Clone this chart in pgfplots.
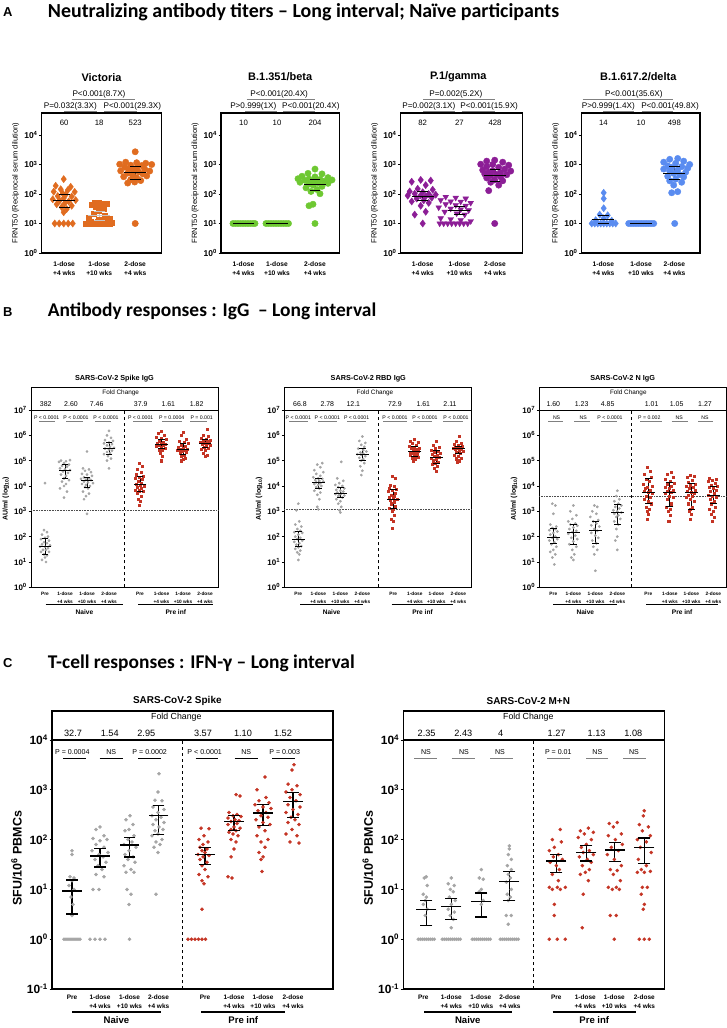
\documentclass[border=0pt]{standalone}
\usepackage{pgfplots}
\pgfplotsset{compat=1.18}
\usepackage{fontspec}
\setmainfont{Liberation Sans}
\newfontfamily\headfont{Carlito}
\definecolor{vic}{RGB}{224,108,32}
\definecolor{bet}{RGB}{110,200,50}
\definecolor{gam}{RGB}{140,30,150}
\definecolor{del}{RGB}{90,140,240}
\definecolor{ngray}{RGB}{165,165,165}
\definecolor{pred}{RGB}{196,52,36}
\definecolor{pbar}{RGB}{128,128,128}
\newcommand{\fs}[1]{\fontsize{#1}{#1}\selectfont}
\newcommand{\tp}[1]{\textbf{10\textsuperscript{#1}}}
\newcommand{\mqgen}[8]{%
 \addplot[#1, forget plot, line width=#2] coordinates {(#5,#7)(#5,#8)};
 \addplot[#1, forget plot, only marks, mark=-, mark size=#3, mark options={line width=#2}] coordinates {(#5,#7)(#5,#8)};
 \addplot[#1, forget plot, only marks, mark=-, mark size=#4, mark options={line width=#2}] coordinates {(#5,#6)};}
\newcommand{\mqA}[5][black]{\mqgen{#1}{1pt}{5.5pt}{11pt}{#2}{#3}{#4}{#5}}
\newcommand{\mqB}[5][black]{\mqgen{#1}{0.9pt}{3.5pt}{6.5pt}{#2}{#3}{#4}{#5}}
\newcommand{\mqC}[5][black]{\mqgen{#1}{1.3pt}{6pt}{10pt}{#2}{#3}{#4}{#5}}
\newcommand{\tx}[5]{\node[font=#4, inner sep=0pt, anchor=center] at ([yshift=#3]axis cs:#1,#2) {#5};}
\newcommand{\hb}[6][pbar]{\draw[#1, line width=#6] ([yshift=#5]axis cs:#2,#4) -- ([yshift=#5]axis cs:#3,#4);}
\pgfplotsset{
 basefig/.style={scale only axis, xmin=0, clip=false,
   tick align=outside, ytick pos=left, xtick pos=bottom,
   xtick style={draw=none}, minor tick style={draw=none},
   ytick style={black, line width=0.8pt}, major tick length=2.5pt,
   xticklabel style={align=center}, yticklabel style={inner sep=1.5pt}},
 panelA/.style={basefig, height=140bp, ymin=1, ymax=55700,
   axis line style={line width=1.3pt},
   ytick={1,10,100,1000,10000}, yticklabels={\tp{0},\tp{1},\tp{2},\tp{3},\tp{4}},
   yticklabel style={font=\fs{8.5}},
   xticklabels={{1-dose\\+4 wks},{1-dose\\+10 wks},{2-dose\\+4 wks}},
   xticklabel style={font=\fontsize{6.7}{8.4}\selectfont\bfseries, yshift=-3pt},
   ylabel={FRNT50 (Reciprocal serum dilution)}, ylabel style={font=\fs{7.6}}},
 panelB/.style={basefig, height=199.6bp, ymin=1, ymax=7.6e7,
   axis line style={line width=0.9pt},
   ytick={1,10,100,1000,1e4,1e5,1e6,1e7},
   yticklabels={\tp{0},\tp{1},\tp{2},\tp{3},\tp{4},\tp{5},\tp{6},\tp{7}},
   yticklabel style={font=\fs{8}},
   xtick={14,34,56,78,109,130.5,152,174},
   xticklabels={Pre,{1-dose\\+4 wks},{1-dose\\+10 wks},{2-dose\\+4 wks},Pre,{1-dose\\+4 wks},{1-dose\\+10 wks},{2-dose\\+4 wks}},
   xticklabel style={font=\fontsize{4.8}{7.4}\selectfont\bfseries, yshift=1pt},
   ylabel={\textbf{AU/ml (log\textsubscript{10})}}, ylabel style={font=\fs{7}, at={(ticklabel cs:0.444)}}},
 panelC/.style={basefig, height=278bp, ymin=0.1, ymax=38200,
   axis line style={line width=1.3pt},
   ytick={0.1,1,10,100,1000,10000},
   yticklabels={\tp{-1},\tp{0},\tp{1},\tp{2},\tp{3},\tp{4}},
   yticklabel style={font=\fs{12}},
   xtick={20,48,77.5,106.5,153,182,211,241},
   xticklabels={Pre,{1-dose\\+4 wks},{1-dose\\+10 wks},{2-dose\\+4 wks},Pre,{1-dose\\+4 wks},{1-dose\\+10 wks},{2-dose\\+4 wks}},
   xticklabel style={font=\fontsize{6.5}{8.4}\selectfont\bfseries},
   ylabel={\textbf{SFU/10\textsuperscript{6} PBMCs}}, ylabel style={font=\fs{12.5}, at={(ticklabel cs:0.47)}}},
}
\begin{document}
\begin{tikzpicture}
\path[use as bounding box] (0,0) rectangle (727bp,-1028bp);
\node[anchor=west, inner sep=0pt, font=\bfseries\fs{13}] at (3bp,-11.7bp) {A};
\node[anchor=west, inner sep=0pt, font=\headfont\bfseries\fs{20}] at (47.7bp,-11.7bp) {Neutralizing antibody titers – Long interval; Naïve participants};
\node[anchor=west, inner sep=0pt, font=\bfseries\fs{13}] at (3bp,-311.7bp) {B};
\node[anchor=west, inner sep=0pt, font=\headfont\bfseries\fs{19.5}] at (47.7bp,-311.7bp) {Antibody responses : IgG\ \ – Long interval};
\node[anchor=west, inner sep=0pt, font=\bfseries\fs{13}] at (3bp,-663bp) {C};
\node[anchor=west, inner sep=0pt, font=\headfont\bfseries\fs{19.5}] at (47.7bp,-663bp) {T-cell responses : IFN-γ – Long interval};

%%%%%%%%%%%%%%%% A: Victoria
\begin{axis}[ymode=log, panelA, width=119.6bp, at={(41.7bp,-253bp)}, anchor=south west, xmax=119.6, xtick={22.5,57.5,93.5}]
\addplot[vic, only marks, mark=diamond*, mark size=3.6pt] coordinates {(22,320)(14,190)(29,175)(19,145)(26,135)(12,120)(33,118)(21,105)(24,95)(16,85)(30,82)(22,72)(11,66)(34,62)(18,60)(27,56)(23,48)(15,45)(30,40)(20,36)(25,31)(22,24)(13,10)(17.5,10)(22,10)(26.5,10)(31,10)};
\addplot[vic, only marks, mark=square*, mark size=2.5pt] coordinates {(53,52)(57,50)(61,48)(65,46)(50,43)(58,41)(54,36)(62,32)(57,27)(52,22)(63,19)(47,16)(68,15)(57,13)(44,10)(47.5,10)(51,10)(54.5,10)(58,10)(61.5,10)(65,10)(68.5,10)(49,11.5)(56,11.5)(63,11.5)(70,11)};
\addplot[vic, only marks, mark=*, mark size=3.2pt] coordinates {(93.5,2700)(84,1200)(95,1150)(104,1100)(78,1020)(89,950)(100,920)(110,1000)(83,820)(95,760)(87,700)(103,700)(92,650)(79,610)(108,600)(97,560)(86,510)(101,480)(91,430)(105,410)(82,385)(95,350)(89,305)(99,285)(93,255)(86,235)(93.5,10)};
\mqA{22.5}{60}{35}{100}
\mqA[gray!45]{57.5}{18}{12.5}{25}
\mqA{93.5}{523}{320}{850}
\tx{59.8}{55700}{36pt}{\bfseries\fs{11}}{Victoria}
\tx{57.3}{55700}{19pt}{\fs{8.2}}{P<0.001(8.7X)}
\hb{30}{93.3}{55700}{14pt}{0.7pt}
\tx{28.7}{55700}{7pt}{\fs{8.2}}{P=0.032(3.3X)}
\hb{22.7}{55}{55700}{2pt}{0.7pt}
\tx{90.7}{55700}{7pt}{\fs{8.2}}{P<0.001(29.3X)}
\hb{62.7}{95}{55700}{2pt}{0.7pt}
\tx{22.5}{55700}{-10pt}{\fs{7.8}}{60}
\tx{57.5}{55700}{-10pt}{\fs{7.8}}{18}
\tx{93.5}{55700}{-10pt}{\fs{7.8}}{523}
\end{axis}

%%%%%%%%%%%%%%%% A: Beta
\begin{axis}[ymode=log, panelA, width=118.3bp, at={(221bp,-253bp)}, anchor=south west, xmax=118.3, xtick={22.5,56,94}]
\addplot[bet, only marks, mark=*, mark size=3.2pt] coordinates {(12,10)(14.5,10)(17,10)(19.5,10)(22,10)(24.5,10)(27,10)(29.5,10)(32,10)(34,10)};
\addplot[bet, only marks, mark=*, mark size=3.2pt] coordinates {(45,10)(47.5,10)(50,10)(52.5,10)(55,10)(57.5,10)(60,10)(62.5,10)(65,10)(67.5,10)};
\addplot[bet, only marks, mark=*, mark size=3.2pt] coordinates {(94,700)(87,500)(101,480)(81,400)(94,380)(107,360)(77,330)(88,320)(99,310)(111,300)(84,290)(93,280)(103,270)(79,250)(97,240)(88,222)(107,230)(92,200)(101,182)(85,162)(96,142)(90,122)(99,102)(92,45)(88,40)(94,10)};
\mqA{22.5}{10}{10}{10}
\mqA{56}{10}{10}{10}
\mqA{94}{204}{130}{320}
\tx{59.2}{55700}{36pt}{\bfseries\fs{11}}{B.1.351/beta}
\tx{58.2}{55700}{19pt}{\fs{8.2}}{P<0.001(20.4X)}
\hb{25.7}{94}{55700}{14pt}{0.7pt}
\tx{32.3}{55700}{7pt}{\fs{8.2}}{P>0.999(1X)}
\hb{24}{56.3}{55700}{2pt}{0.7pt}
\tx{89.8}{55700}{7pt}{\fs{8.2}}{P<0.001(20.4X)}
\hb{62.3}{94}{55700}{2pt}{0.7pt}
\tx{22.5}{55700}{-10pt}{\fs{7.8}}{10}
\tx{56}{55700}{-10pt}{\fs{7.8}}{10}
\tx{94}{55700}{-10pt}{\fs{7.8}}{204}
\end{axis}

%%%%%%%%%%%%%%%% A: Gamma
\begin{axis}[ymode=log, panelA, width=122bp, at={(400.7bp,-253bp)}, anchor=south west, xmax=122, xtick={22,58.7,94.3}]
\addplot[gam, only marks, mark=diamond*, mark size=3.6pt] coordinates {(20,300)(30,285)(11,260)(25,200)(17,150)(32,140)(9,122)(22,115)(14,102)(28,100)(35,95)(20,90)(7,88)(25,84)(31,75)(16,70)(23,61)(11,56)(28,50)(20,40)(25,25)(14,20)(22,10)};
\addplot[gam, only marks, mark=triangle*, mark size=3.3pt, mark options={rotate=180}] coordinates {(45,80)(55,75)(65,70)(40,62)(50,56)(60,55)(70,50)(45,45)(55,42)(65,40)(38,35)(50,32)(60,30)(68,28)(44,25)(56,22)(64,20)(40,15)(50,14)(60,13)(70,12)(39,10)(43,10)(47,10)(51,10)(55,10)(59,10)(63,10)(67,10)};
\addplot[gam, only marks, mark=*, mark size=3.2pt] coordinates {(94,1400)(86,1300)(102,1200)(80,1020)(92,1000)(108,950)(86,850)(98,800)(104,700)(82,650)(92,610)(110,600)(88,550)(100,520)(84,480)(96,460)(106,450)(90,420)(100,380)(86,350)(94,300)(102,280)(90,250)(98,200)(88,130)(94,10)};
\mqA{22}{82}{60}{120}
\mqA{58.7}{27}{20}{38}
\mqA{94.3}{428}{260}{700}
\tx{57.6}{55700}{36pt}{\bfseries\fs{11}}{P.1/gamma}
\tx{55.2}{55700}{19pt}{\fs{8.2}}{P=0.002(5.2X)}
\hb{22.7}{94.3}{55700}{14pt}{0.7pt}
\tx{28.2}{55700}{7pt}{\fs{8.2}}{P=0.002(3.1X)}
\hb{22.7}{54.3}{55700}{2pt}{0.7pt}
\tx{88.5}{55700}{7pt}{\fs{8.2}}{P<0.001(15.9X)}
\hb{61}{94.3}{55700}{2pt}{0.7pt}
\tx{22}{55700}{-10pt}{\fs{7.8}}{82}
\tx{58.7}{55700}{-10pt}{\fs{7.8}}{27}
\tx{94.3}{55700}{-10pt}{\fs{7.8}}{428}
\end{axis}

%%%%%%%%%%%%%%%% A: Delta
\begin{axis}[ymode=log, panelA, width=118.3bp, at={(581.7bp,-253bp)}, anchor=south west, xmax=118.3, xtick={21.7,59.3,92.7}]
\addplot[del, only marks, mark=diamond*, mark size=3.6pt] coordinates {(22,110)(22,70)(22,33)(18,20)(26,19)(14,13)(30,12.5)(22,15)(10,10)(13,10)(16,10)(19,10)(22,10)(25,10)(28,10)(31,10)(34,10)};
\addplot[del, only marks, mark=*, mark size=3.2pt] coordinates {(47,10)(49.5,10)(52,10)(54.5,10)(57,10)(59.5,10)(62,10)(64.5,10)(67,10)(69.5,10)(72,10)};
\addplot[del, only marks, mark=*, mark size=3.2pt] coordinates {(96,1600)(88,1500)(102,1300)(82,1200)(94,1100)(108,1000)(86,900)(100,850)(90,800)(106,750)(82,700)(96,650)(88,600)(104,550)(92,500)(98,450)(86,400)(102,380)(94,320)(88,280)(100,250)(92,200)(96,120)(90,110)(93,10)};
\mqA{21.7}{14}{10}{18}
\mqA{59.3}{10}{10}{10}
\mqA{92.7}{498}{300}{850}
\tx{56.6}{55700}{36pt}{\bfseries\fs{11}}{B.1.617.2/delta}
\tx{52.2}{55700}{19pt}{\fs{8.2}}{P<0.001(35.6X)}
\hb{1}{91.7}{55700}{14pt}{0.7pt}
\tx{26.7}{55700}{7pt}{\fs{8.2}}{P>0.999(1.4X)}
\hb{21.7}{52.3}{55700}{2pt}{0.7pt}
\tx{88.3}{55700}{7pt}{\fs{8.2}}{P<0.001(49.8X)}
\hb{60}{91.7}{55700}{2pt}{0.7pt}
\tx{21.7}{55700}{-10pt}{\fs{7.8}}{14}
\tx{59.3}{55700}{-10pt}{\fs{7.8}}{10}
\tx{92.7}{55700}{-10pt}{\fs{7.8}}{498}
\end{axis}

%%%%%%%%%%%%%%%% B: Spike IgG
\begin{axis}[ymode=log, panelB, width=187.3bp, at={(31bp,-587.3bp)}, anchor=south west, xmax=187.3]
\addplot[black, line width=0.9pt, forget plot] coordinates {(0,1e7)(187.3,1e7)};
\addplot[black, dashed, line width=0.7pt, forget plot] coordinates {(93.3,1)(93.3,1e7)};
\addplot[black!70, densely dotted, line width=0.6pt, forget plot] coordinates {(0,1100)(187.3,1100)};
\addplot[ngray, only marks, mark=*, mark size=1.2pt] coordinates {(14,13000)(13,180)(16,150)(11,120)(17,100)(14,90)(10,80)(18,70)(13,60)(16,55)(11,50)(19,45)(14,40)(9,40)(17,35)(12,30)(15,30)(10,25)(18,25)(13,20)(16,18)(14,15)(11,12)(15,10)};
\addplot[ngray, only marks, mark=*, mark size=1.2pt] coordinates {(30,100000)(35,95000)(39,105000)(28,90000)(33,80000)(38,70000)(31,62000)(36,58000)(29,50000)(34,45000)(39,42000)(32,38000)(37,33000)(30,28000)(35,25000)(33,20000)(38,17000)(31,15000)(35,12000)(33,10000)(29,8000)(36,6000)(33,3500)};
\addplot[ngray, only marks, mark=*, mark size=1.2pt] coordinates {(56,230000)(52,50000)(58,45000)(54,40000)(60,35000)(51,30000)(56,28000)(61,25000)(53,22000)(58,20000)(50,19000)(55,18000)(60,17000)(53,15000)(57,14000)(62,13000)(51,12000)(55,11000)(59,10000)(54,9000)(57,8000)(52,6000)(58,5000)(55,4000)(53,3000)(56,800)};
\addplot[ngray, only marks, mark=*, mark size=1.2pt] coordinates {(78,1500000)(76,1000000)(80,800000)(74,650000)(82,600000)(78,520000)(73,480000)(81,450000)(76,400000)(79,350000)(83,320000)(74,300000)(78,280000)(81,250000)(76,220000)(79,200000)(73,180000)(77,150000)(80,120000)(76,100000)(78,50000)};
\addplot[pred, only marks, mark=square*, mark size=1.05pt] coordinates {(108,80000)(111,60000)(106,45000)(110,35000)(105,28000)(112,25000)(108,22000)(104,20000)(111,18000)(107,15000)(110,13000)(105,12000)(109,11000)(113,10000)(106,9000)(110,8000)(104,7000)(108,6500)(112,6000)(106,5000)(110,4000)(107,3000)(109,2500)(108,1800)};
\addplot[pred, only marks, mark=square*, mark size=1.05pt] coordinates {(130,1500000)(127,1200000)(133,1000000)(125,850000)(130,750000)(135,700000)(128,600000)(132,550000)(126,500000)(130,480000)(134,450000)(128,420000)(132,400000)(125,380000)(130,350000)(134,300000)(128,270000)(131,250000)(129,200000)(131,150000)(130,100000)};
\addplot[pred, only marks, mark=square*, mark size=1.05pt] coordinates {(152,1300000)(150,1000000)(155,700000)(148,600000)(153,550000)(157,500000)(150,420000)(154,380000)(147,340000)(152,300000)(156,290000)(149,270000)(153,260000)(146,250000)(151,230000)(155,210000)(149,190000)(153,170000)(150,150000)(154,130000)(152,110000)(150,100000)};
\addplot[pred, only marks, mark=square*, mark size=1.05pt] coordinates {(176,1800000)(172,1000000)(177,900000)(170,800000)(175,700000)(179,650000)(172,600000)(176,560000)(169,520000)(174,500000)(178,480000)(171,450000)(175,420000)(179,400000)(173,350000)(177,300000)(170,280000)(174,250000)(172,200000)(176,170000)(174,150000)};
\mqB{14}{40}{20}{85}
\mqB{34}{43000}{20000}{68000}
\mqB{56}{16000}{9000}{22000}
\mqB{78}{300000}{180000}{520000}
\mqB{109}{12000}{6000}{23000}
\mqB{130.5}{450000}{300000}{700000}
\mqB{152}{270000}{170000}{500000}
\mqB{174}{500000}{320000}{700000}
\tx{83.5}{7.6e7}{8.7pt}{\bfseries\fs{7.3}}{SARS-CoV-2 Spike IgG}
\tx{89.7}{1e7}{17.3pt}{\fs{6.4}}{Fold Change}
\tx{14.7}{1e7}{6pt}{\fs{7}}{382}
\tx{40}{1e7}{6pt}{\fs{7}}{2.60}
\tx{65.7}{1e7}{6pt}{\fs{7}}{7.46}
\tx{109.7}{1e7}{6pt}{\fs{7}}{37.9}
\tx{137.3}{1e7}{6pt}{\fs{7}}{1.61}
\tx{165.7}{1e7}{6pt}{\fs{7}}{1.82}
\tx{15.7}{1e7}{-7.7pt}{\fs{5.2}}{P < 0.0001}
\tx{45}{1e7}{-7.7pt}{\fs{5.2}}{P < 0.0001}
\tx{75}{1e7}{-7.7pt}{\fs{5.2}}{P < 0.0001}
\tx{109.7}{1e7}{-7.7pt}{\fs{5.2}}{P < 0.0001}
\tx{140.7}{1e7}{-7.7pt}{\fs{5.2}}{P = 0.0004}
\tx{170.7}{1e7}{-7.7pt}{\fs{5.2}}{P = 0.001}
\hb{8.3}{24}{1e7}{-11.7pt}{1.3pt}
\hb{35}{52.3}{1e7}{-11.7pt}{1.3pt}
\hb{64}{80}{1e7}{-11.7pt}{1.3pt}
\hb{102.3}{120.7}{1e7}{-11.7pt}{1.3pt}
\hb{131.3}{150.7}{1e7}{-11.7pt}{1.3pt}
\hb{159}{175.7}{1e7}{-11.7pt}{1.3pt}
\hb[black]{14.7}{92.3}{1}{-17pt}{1pt}
\hb[black]{107.3}{182.3}{1}{-17pt}{1pt}
\tx{53.5}{1}{-25pt}{\bfseries\fs{6.6}}{Naive}
\tx{144.8}{1}{-25pt}{\bfseries\fs{6.6}}{Pre inf}
\end{axis}

%%%%%%%%%%%%%%%% B: RBD IgG
\begin{axis}[ymode=log, panelB, width=187.4bp, at={(284.3bp,-587.3bp)}, anchor=south west, xmax=187.4]
\addplot[black, line width=0.9pt, forget plot] coordinates {(0,1e7)(187.4,1e7)};
\addplot[black, dashed, line width=0.7pt, forget plot] coordinates {(94,1)(94,1e7)};
\addplot[black!70, densely dotted, line width=0.6pt, forget plot] coordinates {(0,1200)(187.4,1200)};
\addplot[ngray, only marks, mark=*, mark size=1.2pt] coordinates {(14,2000)(12,1100)(15,400)(11,300)(17,250)(13,200)(16,170)(10,150)(18,140)(14,120)(11,100)(16,90)(13,80)(18,70)(10,62)(15,55)(12,48)(17,42)(14,38)(11,33)(16,28)(13,24)(15,20)(14,12)};
\addplot[ngray, only marks, mark=*, mark size=1.2pt] coordinates {(38,80000)(33,70000)(36,55000)(30,42000)(39,35000)(32,30000)(36,25000)(29,22000)(34,20000)(38,19000)(31,17000)(35,16000)(39,15000)(32,14000)(36,13000)(30,12000)(34,11000)(37,10000)(32,9000)(35,8000)(30,6500)(36,5500)(33,4500)(35,3000)(33,1500)(34,1200)};
\addplot[ngray, only marks, mark=*, mark size=1.2pt] coordinates {(57,90000)(53,20000)(59,16000)(55,13000)(51,11000)(58,10000)(54,9000)(60,8000)(52,7000)(56,6500)(59,6000)(53,5500)(57,5000)(51,4800)(55,4500)(60,4200)(54,4000)(58,3500)(52,3000)(56,2500)(54,2000)(57,1500)(55,1100)(56,900)};
\addplot[ngray, only marks, mark=*, mark size=1.2pt] coordinates {(78,900000)(75,600000)(81,500000)(77,420000)(80,350000)(74,300000)(79,260000)(82,230000)(76,210000)(79,190000)(73,180000)(77,170000)(81,150000)(75,130000)(79,115000)(77,100000)(80,80000)(76,60000)(78,40000)(77,27000)};
\addplot[pred, only marks, mark=square*, mark size=1.05pt] coordinates {(108,24000)(111,20000)(106,11000)(110,9500)(105,8500)(112,7500)(108,7000)(104,6000)(111,5000)(107,4500)(110,4000)(105,3500)(109,3200)(113,3000)(106,2800)(110,2400)(107,2000)(111,1600)(105,1300)(109,1200)(108,1000)(110,700)(107,500)(109,400)(108,220)};
\addplot[pred, only marks, mark=square*, mark size=1.05pt] coordinates {(130,700000)(126,600000)(134,550000)(128,480000)(132,420000)(125,380000)(130,350000)(135,320000)(127,300000)(132,270000)(129,250000)(134,230000)(126,210000)(131,200000)(128,190000)(133,180000)(126,160000)(130,150000)(134,140000)(128,130000)(131,120000)(129,100000)};
\addplot[pred, only marks, mark=square*, mark size=1.05pt] coordinates {(152,600000)(149,400000)(155,350000)(151,300000)(147,260000)(154,240000)(150,220000)(156,200000)(148,180000)(153,160000)(150,150000)(155,140000)(147,130000)(152,120000)(149,100000)(154,90000)(151,80000)(148,70000)(153,60000)(150,50000)(152,40000)};
\addplot[pred, only marks, mark=square*, mark size=1.05pt] coordinates {(175,900000)(172,600000)(177,500000)(170,450000)(174,400000)(178,370000)(171,350000)(175,330000)(169,310000)(173,300000)(177,290000)(171,280000)(175,260000)(179,240000)(172,220000)(176,200000)(170,170000)(174,150000)(177,130000)(172,120000)(175,100000)(173,90000)};
\mqB{14}{78}{40}{160}
\mqB{34}{14000}{8000}{19000}
\mqB{56}{5000}{3500}{9000}
\mqB{78}{175000}{100000}{300000}
\mqB{109}{3000}{1300}{7000}
\mqB{130.5}{230000}{150000}{380000}
\mqB{152}{140000}{80000}{250000}
\mqB{174}{300000}{200000}{370000}
\tx{84}{7.6e7}{8.7pt}{\bfseries\fs{7.3}}{SARS-CoV-2 RBD IgG}
\tx{90.7}{1e7}{17.3pt}{\fs{6.4}}{Fold Change}
\tx{15.7}{1e7}{6pt}{\fs{7}}{66.8}
\tx{43}{1e7}{6pt}{\fs{7}}{2.78}
\tx{69}{1e7}{6pt}{\fs{7}}{12.1}
\tx{110.7}{1e7}{6pt}{\fs{7}}{72.9}
\tx{139}{1e7}{6pt}{\fs{7}}{1.61}
\tx{165.7}{1e7}{6pt}{\fs{7}}{2.11}
\tx{14}{1e7}{-7.7pt}{\fs{5.2}}{P < 0.0001}
\tx{43}{1e7}{-7.7pt}{\fs{5.2}}{P < 0.0001}
\tx{72.3}{1e7}{-7.7pt}{\fs{5.2}}{P < 0.0001}
\tx{110.7}{1e7}{-7.7pt}{\fs{5.2}}{P < 0.0001}
\tx{140.7}{1e7}{-7.7pt}{\fs{5.2}}{P < 0.0001}
\tx{171.7}{1e7}{-7.7pt}{\fs{5.2}}{P < 0.0001}
\hb{5}{24}{1e7}{-11.7pt}{1.3pt}
\hb{34}{52.3}{1e7}{-11.7pt}{1.3pt}
\hb{63}{81.7}{1e7}{-11.7pt}{1.3pt}
\hb{99}{122.3}{1e7}{-11.7pt}{1.3pt}
\hb{129}{147.3}{1e7}{-11.7pt}{1.3pt}
\hb{159}{178.3}{1e7}{-11.7pt}{1.3pt}
\hb[black]{15.7}{79}{1}{-17pt}{1pt}
\hb[black]{107.3}{169}{1}{-17pt}{1pt}
\tx{47.3}{1}{-25pt}{\bfseries\fs{6.6}}{Naive}
\tx{138.2}{1}{-25pt}{\bfseries\fs{6.6}}{Pre inf}
\end{axis}

%%%%%%%%%%%%%%%% B: N IgG
\begin{axis}[ymode=log, panelB, width=186.7bp, at={(539.3bp,-587.3bp)}, anchor=south west, xmax=186.7]
\addplot[black, line width=0.9pt, forget plot] coordinates {(0,1e7)(186.7,1e7)};
\addplot[black, dashed, line width=0.7pt, forget plot] coordinates {(92.3,1)(92.3,1e7)};
\addplot[black!70, densely dotted, line width=0.6pt, forget plot] coordinates {(0,4000)(186.7,4000)};
\addplot[ngray, only marks, mark=*, mark size=1.2pt] coordinates {(13,2000)(16,1700)(14,800)(11,300)(17,250)(13,220)(16,200)(10,180)(18,160)(14,140)(11,120)(16,100)(13,90)(18,80)(10,70)(15,60)(12,50)(17,40)(14,30)(11,25)(16,20)(13,15)(15,8)};
\addplot[ngray, only marks, mark=*, mark size=1.2pt] coordinates {(34,1700)(31,1000)(37,700)(33,500)(29,400)(36,330)(31,300)(38,270)(34,230)(30,200)(37,170)(33,150)(29,130)(36,110)(32,90)(38,80)(34,65)(30,50)(37,40)(33,30)(35,20)(32,15)(34,12)};
\addplot[ngray, only marks, mark=*, mark size=1.2pt] coordinates {(55,1700)(58,1500)(53,1000)(57,800)(51,600)(59,450)(54,400)(57,330)(52,280)(60,250)(55,200)(58,170)(52,140)(56,110)(59,90)(53,70)(57,55)(54,40)(58,30)(55,20)(56,4.5)};
\addplot[ngray, only marks, mark=*, mark size=1.2pt] coordinates {(78,6500)(77,4000)(80,3000)(75,2500)(79,2000)(82,1700)(76,1500)(80,1300)(74,1100)(78,1000)(82,900)(75,800)(79,700)(77,600)(81,500)(75,400)(79,300)(77,200)(78,100)(76,70)(78,30)};
\addplot[pred, only marks, mark=square*, mark size=1.05pt] coordinates {(108,55000)(111,40000)(105,30000)(112,22000)(107,18000)(110,15000)(104,12000)(113,10000)(108,9000)(106,8000)(111,7000)(105,6000)(109,5500)(113,5000)(107,4000)(111,3500)(105,3000)(109,2500)(112,2000)(107,1500)(110,1200)(108,1000)(109,800)(108,500)};
\addplot[pred, only marks, mark=square*, mark size=1.05pt] coordinates {(132,35000)(128,30000)(134,22000)(126,18000)(131,15000)(135,13000)(128,12000)(132,10000)(126,9000)(130,8000)(134,7000)(128,6000)(132,5500)(126,5000)(130,4000)(134,3500)(128,3000)(132,2000)(127,1500)(131,1200)(129,1000)(131,700)(129,420)(130,400)};
\addplot[pred, only marks, mark=square*, mark size=1.05pt] coordinates {(151,26000)(155,24000)(148,22000)(153,17000)(149,14000)(156,12000)(151,11000)(147,10000)(154,9000)(150,8000)(156,7000)(148,6000)(152,5500)(155,5000)(149,4500)(153,4000)(147,3500)(151,3000)(155,2500)(149,2000)(153,1500)(151,1200)(150,1000)(152,800)(151,500)};
\addplot[pred, only marks, mark=square*, mark size=1.05pt] coordinates {(170,20000)(177,19000)(173,17000)(169,15000)(176,13000)(172,11000)(178,10000)(170,9000)(174,8000)(177,7000)(171,6000)(175,5000)(169,4500)(173,4000)(177,3500)(171,3000)(175,2500)(172,2000)(176,1500)(170,1200)(174,1000)(172,800)(175,600)(173,400)};
\mqB{14}{95}{55}{220}
\mqB{34}{150}{50}{300}
\mqB{56}{180}{55}{400}
\mqB{78}{900}{300}{1800}
\mqB{109}{5500}{2100}{20000}
\mqB{130.5}{5500}{1600}{14000}
\mqB{152}{5500}{1200}{13000}
\mqB{174}{4200}{2000}{10000}
\tx{83.3}{7.6e7}{8.7pt}{\bfseries\fs{7.3}}{SARS-CoV-2 N IgG}
\tx{89}{1e7}{17.3pt}{\fs{6.4}}{Fold Change}
\tx{14}{1e7}{6pt}{\fs{7}}{1.60}
\tx{42.3}{1e7}{6pt}{\fs{7}}{1.23}
\tx{68.3}{1e7}{6pt}{\fs{7}}{4.85}
\tx{112.3}{1e7}{6pt}{\fs{7}}{1.01}
\tx{137.3}{1e7}{6pt}{\fs{7}}{1.05}
\tx{165.7}{1e7}{6pt}{\fs{7}}{1.27}
\tx{17.3}{1e7}{-7.7pt}{\fs{5.2}}{NS}
\tx{44}{1e7}{-7.7pt}{\fs{5.2}}{NS}
\tx{70.7}{1e7}{-7.7pt}{\fs{5.2}}{P < 0.0001}
\tx{110}{1e7}{-7.7pt}{\fs{5.2}}{P = 0.002}
\tx{140}{1e7}{-7.7pt}{\fs{5.2}}{NS}
\tx{165.7}{1e7}{-7.7pt}{\fs{5.2}}{NS}
\hb{9}{24}{1e7}{-11.7pt}{1.3pt}
\hb{35}{50.7}{1e7}{-11.7pt}{1.3pt}
\hb{61.3}{78}{1e7}{-11.7pt}{1.3pt}
\hb{100.7}{122.3}{1e7}{-11.7pt}{1.3pt}
\hb{132.3}{149}{1e7}{-11.7pt}{1.3pt}
\hb{159}{174}{1e7}{-11.7pt}{1.3pt}
\hb[black]{14}{78}{1}{-17pt}{1pt}
\hb[black]{106.7}{179}{1}{-17pt}{1pt}
\tx{46}{1}{-25pt}{\bfseries\fs{6.6}}{Naive}
\tx{142.8}{1}{-25pt}{\bfseries\fs{6.6}}{Pre inf}
\end{axis}

%%%%%%%%%%%%%%%% C: Spike
\begin{axis}[ymode=log, panelC, width=281bp, at={(52bp,-989bp)}, anchor=south west, xmax=281]
\addplot[black, line width=1.3pt, forget plot] coordinates {(0,1e4)(281,1e4)};
\addplot[black, dashed, line width=0.8pt, forget plot] coordinates {(130,0.1)(130,1e4)};
\addplot[ngray, only marks, mark=*, mark size=1.6pt] coordinates {(20,60)(20,50)(18,18)(22,17)(20,15)(17,12)(22,10)(19,7)(21,5)(20,3)(12,1)(14,1)(16,1)(18,1)(20,1)(22,1)(24,1)(26,1)(28,1)};
\addplot[ngray, only marks, mark=*, mark size=1.6pt] coordinates {(48,180)(44,160)(52,120)(41,105)(55,100)(48,95)(44,80)(52,70)(40,60)(56,55)(47,50)(51,45)(43,40)(54,35)(46,30)(50,25)(44,20)(52,18)(41,10)(47,10)(38,1)(43,1)(48,1)(53,1)};
\addplot[ngray, only marks, mark=*, mark size=1.6pt] coordinates {(78,300)(74,250)(81,200)(77,160)(73,150)(82,120)(76,100)(80,90)(72,80)(84,70)(77,60)(73,50)(81,45)(76,40)(83,35)(72,30)(79,25)(74,22)(82,22)(75,10)(79,8)(77,5)(77.5,1)};
\addplot[ngray, only marks, mark=*, mark size=1.6pt] coordinates {(107,2100)(106,900)(103,620)(110,600)(101,450)(112,400)(106,350)(100,300)(109,280)(104,250)(112,220)(101,200)(107,180)(111,160)(103,150)(106,130)(100,120)(110,100)(104,90)(108,80)(102,70)(106,55)(104,8)};
\addplot[pred, only marks, mark=*, mark size=1.6pt] coordinates {(149,170)(157,165)(152,120)(147,100)(156,90)(151,80)(148,70)(155,65)(150,60)(153,55)(146,50)(157,48)(151,45)(148,40)(155,35)(150,30)(153,25)(147,20)(156,18)(150,15)(152,13)(150,4)(136,1)(139.5,1)(143,1)(146.5,1)(150,1)(153.5,1)};
\addplot[pred, only marks, mark=*, mark size=1.6pt] coordinates {(184,800)(188,750)(177,350)(185,320)(181,300)(189,290)(176,270)(183,250)(187,240)(179,230)(185,210)(176,200)(182,180)(188,170)(179,160)(184,150)(177,140)(181,130)(186,120)(179,100)(184,90)(182,65)(179,45)(176,18)(180,17)};
\addplot[pred, only marks, mark=*, mark size=1.6pt] coordinates {(213,1800)(205,1000)(214,700)(207,600)(217,550)(203,500)(211,450)(219,420)(206,380)(214,350)(209,300)(216,280)(204,250)(211,220)(218,200)(207,180)(213,150)(205,120)(216,100)(209,90)(213,70)(207,55)(211,45)(209,40)(210,23)};
\addplot[pred, only marks, mark=*, mark size=1.6pt] coordinates {(242,3200)(240,2500)(236,1300)(245,1200)(240,1000)(234,900)(248,800)(238,700)(244,600)(236,500)(248,450)(241,400)(234,350)(246,320)(239,280)(243,250)(236,220)(247,200)(240,160)(234,130)(245,120)(238,90)(247,85)};
\mqC{20}{9.3}{3.2}{15.5}
\mqC{48}{47}{28}{66}
\mqC{77.5}{78}{45}{110}
\mqC{106.5}{300}{125}{480}
\mqC{153}{50}{32}{70}
\mqC{182}{230}{150}{300}
\mqC{211}{340}{190}{500}
\mqC{241}{580}{280}{870}
\tx{125.3}{38200}{10pt}{\bfseries\fs{10}}{SARS-CoV-2 Spike}
\tx{124.3}{1e4}{23pt}{\fs{8.8}}{Fold Change}
\tx{21}{1e4}{7pt}{\fs{9.2}}{32.7}
\tx{57.7}{1e4}{7pt}{\fs{9.2}}{1.54}
\tx{94.3}{1e4}{7pt}{\fs{9.2}}{2.95}
\tx{151}{1e4}{7pt}{\fs{9.2}}{3.57}
\tx{191}{1e4}{7pt}{\fs{9.2}}{1.10}
\tx{231}{1e4}{7pt}{\fs{9.2}}{1.52}
\tx{20.3}{1e4}{-12pt}{\fs{7.1}}{P = 0.0004}
\tx{59.3}{1e4}{-12pt}{\fs{7.1}}{NS}
\tx{97.7}{1e4}{-12pt}{\fs{7.1}}{P = 0.0002}
\tx{152.7}{1e4}{-12pt}{\fs{7.1}}{P < 0.0001}
\tx{194.3}{1e4}{-12pt}{\fs{7.1}}{NS}
\tx{232.7}{1e4}{-12pt}{\fs{7.1}}{P = 0.003}
\hb[black]{11}{34.3}{1e4}{-18.5pt}{1.2pt}
\hb[black]{47.7}{71}{1e4}{-18.5pt}{1.2pt}
\hb[black]{86}{109.3}{1e4}{-18.5pt}{1.2pt}
\hb[black]{143.7}{166}{1e4}{-18.5pt}{1.2pt}
\hb[black]{182.7}{206}{1e4}{-18.5pt}{1.2pt}
\hb[black]{220.3}{242.7}{1e4}{-18.5pt}{1.2pt}
\hb[black]{20.3}{108.7}{0.1}{-23pt}{1.3pt}
\hb[black]{149.3}{233.3}{0.1}{-23pt}{1.3pt}
\tx{64.5}{0.1}{-31pt}{\bfseries\fs{9.6}}{Naive}
\tx{191.3}{0.1}{-31pt}{\bfseries\fs{9.6}}{Pre inf}
\end{axis}

%%%%%%%%%%%%%%%% C: M+N
\begin{axis}[ymode=log, panelC, width=261bp, at={(403.3bp,-989bp)}, anchor=south west, xmax=261]
\addplot[black, line width=1.3pt, forget plot] coordinates {(0,1e4)(261,1e4)};
\addplot[black, dashed, line width=0.8pt, forget plot] coordinates {(130,0.1)(130,1e4)};
\addplot[ngray, only marks, mark=*, mark size=1.6pt] coordinates {(23,18)(21,17)(24,12)(20,8)(23,7)(22,6)(20,5)(24,4)(22,3)(15,1)(17,1)(19,1)(21,1)(23,1)(25,1)(27,1)(29,1)(31,1)};
\addplot[ngray, only marks, mark=*, mark size=1.6pt] coordinates {(48,17)(45,13)(51,12)(47,10)(50,9)(46,7)(52,6)(48,5)(45,4)(51,3.5)(47,3)(50,2.5)(48,1.7)(39,1)(41,1)(43,1)(45,1)(47,1)(49,1)(51,1)(53,1)(55,1)(57,1)};
\addplot[ngray, only marks, mark=*, mark size=1.6pt] coordinates {(78,25)(76,17)(80,16)(78,10)(76,9)(80,6)(78,5)(69,1)(71,1)(73,1)(75,1)(77,1)(79,1)(81,1)(83,1)(85,1)(87,1)};
\addplot[ngray, only marks, mark=*, mark size=1.6pt] coordinates {(106,75)(106,65)(105,50)(108,40)(104,30)(108,25)(105,20)(107,17)(103,14)(108,10)(104,8)(107,7)(105,6)(103,3)(108,3)(105,2)(97,1)(99,1)(101,1)(103,1)(105,1)(107,1)(109,1)(111,1)(113,1)(115,1)};
\addplot[pred, only marks, mark=*, mark size=1.6pt] coordinates {(157,160)(149,100)(158,90)(151,70)(146,60)(155,50)(150,45)(159,40)(147,35)(153,30)(156,25)(149,20)(155,15)(146,11)(154,11)(162,11)(149,10)(157,10)(151,5)(151,3)(146,1)(154,1)(162,1)};
\addplot[pred, only marks, mark=*, mark size=1.6pt] coordinates {(185,170)(177,150)(190,140)(181,130)(175,110)(188,100)(183,80)(178,70)(186,60)(180,55)(190,50)(176,45)(184,40)(188,35)(179,30)(186,25)(182,22)(177,20)(185,15)(180,8)(179,1.7)};
\addplot[pred, only marks, mark=*, mark size=1.6pt] coordinates {(206,210)(214,220)(210,180)(218,130)(205,120)(212,100)(219,80)(208,70)(215,60)(204,50)(211,40)(218,30)(207,25)(214,24)(210,20)(217,15)(205,11)(213,11)(209,10)(216,10)(207,3)(213,3)(211,1)};
\addplot[pred, only marks, mark=*, mark size=1.6pt] coordinates {(241,380)(240,300)(236,200)(245,180)(239,150)(247,120)(234,100)(243,90)(237,70)(248,55)(235,40)(243,30)(238,25)(247,23)(234,22)(241,22)(239,11)(244,11)(238,8)(241,5)(240,4)(236,1)(241,1)(246,1)};
\mqC{23}{3.9}{1.9}{6}
\mqC{48}{4.5}{2.5}{6.5}
\mqC{78}{5.7}{2.8}{8.5}
\mqC{106}{14.5}{6}{23}
\mqC{153}{37}{22}{50}
\mqC{183}{55}{37}{75}
\mqC{211.5}{62}{36}{88}
\mqC{241}{70}{33}{108}
\tx{125}{38200}{10pt}{\bfseries\fs{10}}{SARS-CoV-2 M+N}
\tx{125}{1e4}{23pt}{\fs{8.8}}{Fold Change}
\tx{23.3}{1e4}{7pt}{\fs{9.2}}{2.35}
\tx{60}{1e4}{7pt}{\fs{9.2}}{2.43}
\tx{97.3}{1e4}{7pt}{\fs{9.2}}{4}
\tx{153.3}{1e4}{7pt}{\fs{9.2}}{1.27}
\tx{193.3}{1e4}{7pt}{\fs{9.2}}{1.13}
\tx{230}{1e4}{7pt}{\fs{9.2}}{1.08}
\tx{22.7}{1e4}{-12pt}{\fs{7.1}}{NS}
\tx{60.7}{1e4}{-12pt}{\fs{7.1}}{NS}
\tx{96.7}{1e4}{-12pt}{\fs{7.1}}{NS}
\tx{155}{1e4}{-12pt}{\fs{7.1}}{P = 0.01}
\tx{194}{1e4}{-12pt}{\fs{7.1}}{NS}
\tx{230.7}{1e4}{-12pt}{\fs{7.1}}{NS}
\hb{11}{34}{1e4}{-18.5pt}{1.6pt}
\hb{48.3}{71.7}{1e4}{-18.5pt}{1.6pt}
\hb{86.7}{109.3}{1e4}{-18.5pt}{1.6pt}
\hb{144}{166.7}{1e4}{-18.5pt}{1.6pt}
\hb{182.7}{205}{1e4}{-18.5pt}{1.6pt}
\hb{220}{242.3}{1e4}{-18.5pt}{1.6pt}
\hb[black]{20.7}{108.3}{0.1}{-23pt}{1.3pt}
\hb[black]{149.3}{232.7}{0.1}{-23pt}{1.3pt}
\tx{64.5}{0.1}{-31pt}{\bfseries\fs{9.6}}{Naive}
\tx{191}{0.1}{-31pt}{\bfseries\fs{9.6}}{Pre inf}
\end{axis}
\end{tikzpicture}
\end{document}
